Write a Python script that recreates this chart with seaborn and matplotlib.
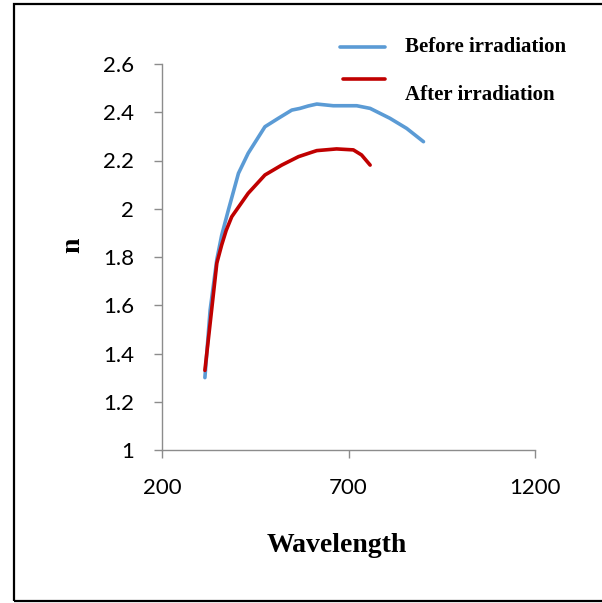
import matplotlib
matplotlib.use("Agg")
import matplotlib.pyplot as plt
from matplotlib.lines import Line2D
from matplotlib.patches import Rectangle
import seaborn as sns
import pandas as pd

# Refractive index n vs wavelength
before_wl = [315, 329, 347, 360, 378, 405, 431, 476, 512, 548, 570, 592, 615, 659, 722, 758, 811, 856, 901]
before_n = [1.30, 1.58, 1.79, 1.89, 1.995, 2.147, 2.23, 2.34, 2.375, 2.409, 2.416, 2.426, 2.434,
            2.427, 2.427, 2.416, 2.375, 2.333, 2.278]

after_wl = [315, 333, 347, 360, 372, 387, 431, 476, 521, 566, 601, 615, 668, 713, 735, 758]
after_n = [1.33, 1.58, 1.775, 1.85, 1.91, 1.967, 2.064, 2.14, 2.181, 2.216, 2.234, 2.241, 2.248,
           2.244, 2.223, 2.181]

series_names = ["Before irradiation", "After irradiation"]
series_colors = ["#5B9BD5", "#C00000"]

x_ticks = [200, 700, 1200]
y_ticks = [1, 1.2, 1.4, 1.6, 1.8, 2, 2.2, 2.4, 2.6]
y_tick_labels = ["1", "1.2", "1.4", "1.6", "1.8", "2", "2.2", "2.4", "2.6"]

df = pd.concat([
    pd.DataFrame({"Wavelength": before_wl, "n": before_n, "series": series_names[0]}),
    pd.DataFrame({"Wavelength": after_wl, "n": after_n, "series": series_names[1]}),
])

sns.set_style("white")
plt.rcParams["font.family"] = ["Lato", "DejaVu Sans"]

fig = plt.figure(figsize=(6.02, 6.03), dpi=100)
ax = fig.add_axes([162 / 602, 1 - 450 / 603, 373 / 602, 386 / 603])

sns.lineplot(data=df, x="Wavelength", y="n", hue="series", palette=series_colors,
             hue_order=series_names, linewidth=2.6, ax=ax, legend=False, sort=False,
             solid_joinstyle="round", solid_capstyle="round")

ax.set_xlim(200, 1200)
ax.set_ylim(1, 2.6)
ax.set_xticks(x_ticks)
ax.set_yticks(y_ticks)
ax.set_yticklabels(y_tick_labels)
ax.set_xlabel("")
ax.set_ylabel("")

axis_gray = "#8c8c8c"
for side in ["top", "right"]:
    ax.spines[side].set_visible(False)
for side in ["left", "bottom"]:
    ax.spines[side].set_color(axis_gray)
    ax.spines[side].set_linewidth(1.0)
ax.tick_params(axis="both", direction="out", length=6, width=1.0, color=axis_gray,
               labelsize=16, labelcolor="black")
ax.tick_params(axis="y", pad=14)
ax.tick_params(axis="x", pad=14)
ax.tick_params(left=True, bottom=True)

serif_bold = dict(family="Liberation Serif", fontweight="bold", color="black")
fig.text(337 / 602, 1 - 545 / 603, "Wavelength", ha="center", va="center", fontsize=20, **serif_bold)
fig.text(73 / 602, 1 - 245 / 603, "n", ha="center", va="center", rotation=90, fontsize=20, **serif_bold)

# Legend drawn as in the reference (red sample sits above its label)
fig.add_artist(Line2D([340 / 602, 385 / 602], [1 - 47 / 603, 1 - 47 / 603],
                      color=series_colors[0], lw=2.6, transform=fig.transFigure))
fig.add_artist(Line2D([343 / 602, 385 / 602], [1 - 79 / 603, 1 - 79 / 603],
                      color=series_colors[1], lw=2.6, transform=fig.transFigure))
fig.text(405 / 602, 1 - 47 / 603, series_names[0], ha="left", va="center", fontsize=15, **serif_bold)
fig.text(405 / 602, 1 - 95 / 603, series_names[1], ha="left", va="center", fontsize=15, **serif_bold)

# Outer frame
fig.add_artist(Rectangle((14 / 602, 1 - 601 / 603), 1.0, 597 / 603, fill=False,
                         edgecolor="black", lw=1.6, transform=fig.transFigure, clip_on=False))

fig.savefig("out.png", dpi=100)
